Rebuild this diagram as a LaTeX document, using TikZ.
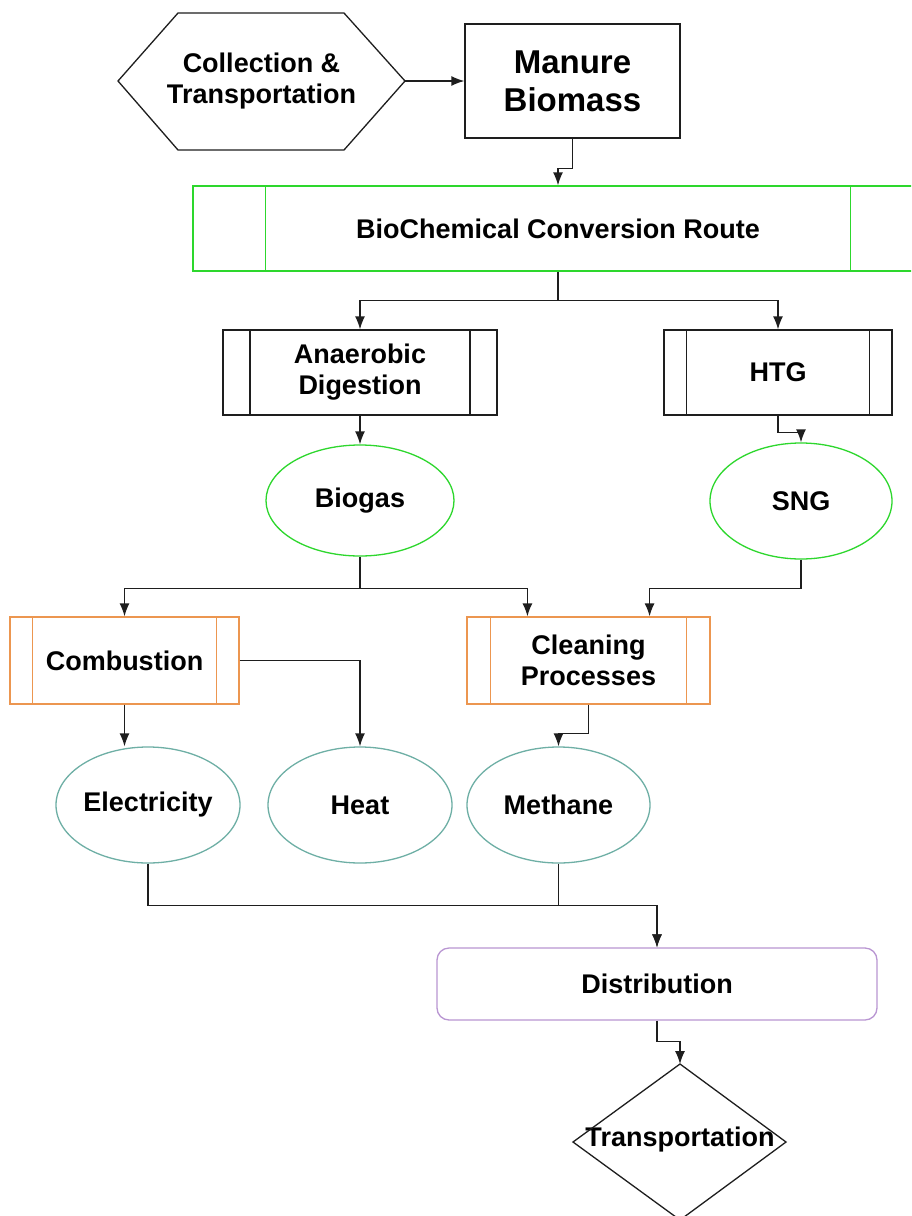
\documentclass[tikz,border=0pt]{standalone}
\usepackage{fontspec}
\setmainfont{Liberation Sans}
\usetikzlibrary{arrows.meta,calc,shapes.geometric}

\definecolor{routegreen}{RGB}{45,215,45}
\definecolor{steporange}{RGB}{236,150,80}
\definecolor{outteal}{RGB}{110,175,165}
\definecolor{distpurple}{RGB}{185,150,210}
\definecolor{linegray}{RGB}{30,30,30}

\tikzset{
  base/.style={inner sep=0pt, line width=1.3pt, align=center,
    font=\fontsize{27}{31}\selectfont\bfseries},
  plainbox/.style={base, draw=linegray, rectangle},
  procbox/.style={base, rectangle},
  oval/.style={base, ellipse, draw=outteal},
  flow/.style={draw=linegray, line width=1.3pt,
    -{Latex[length=13pt,width=10pt]}},
  joinline/.style={draw=linegray, line width=1.3pt},
}

% draws the two inner side bars of a predefined-process box
\newcommand{\sidebars}[3]{%
  \draw[#3, line width=1.4pt] ([xshift=#2]#1.north west) -- ([xshift=#2]#1.south west);
  \draw[#3, line width=1.4pt] ([xshift=-#2]#1.north east) -- ([xshift=-#2]#1.south east);
}

\begin{document}
\begin{tikzpicture}[x=1pt, y=-1pt]
\useasboundingbox (0,0) rectangle (911,1216);
\fill[white] (0,0) rectangle (911,1216);
\clip (0,0) rectangle (911,1216);

% source: collection hexagon
\node[base] (collect) at (261.5,81) {Collection \&\\Transportation};
\coordinate (hexE) at (405,81);
\draw[linegray, line width=1.3pt] (118,81) -- (178,13) -- (344,13) -- (hexE)
  -- (344,150) -- (178,150) -- cycle;

\node[plainbox, minimum width=215pt, minimum height=114pt,
  font=\fontsize{33}{38}\selectfont\bfseries] (manure) at (572.5,81) {Manure\\Biomass};

% conversion route
\node[procbox, draw=routegreen, minimum width=730pt, minimum height=85pt]
  (route) at (558,228.5) {BioChemical Conversion Route};
\sidebars{route}{73pt}{routegreen}

\node[procbox, draw=linegray, minimum width=274pt, minimum height=85pt]
  (anaer) at (360,372.5) {Anaerobic\\Digestion};
\sidebars{anaer}{27.5pt}{linegray}

\node[procbox, draw=linegray, minimum width=228pt, minimum height=85pt]
  (htg) at (778,372.5) {HTG};
\sidebars{htg}{23pt}{linegray}

% gases
\node[oval, draw=routegreen, minimum width=188pt, minimum height=111pt]
  (biogas) at (360,500.5) {\makebox[0pt]{Biogas}};
\node[oval, draw=routegreen, minimum width=182pt, minimum height=116pt]
  (sng) at (801,501) {\makebox[0pt]{SNG}};

% processing
\node[procbox, draw=steporange, minimum width=229pt, minimum height=87pt]
  (comb) at (124.5,660.5) {Combustion};
\sidebars{comb}{23pt}{steporange}

\node[procbox, draw=steporange, minimum width=243pt, minimum height=87pt]
  (clean) at (588.5,660.5) {Cleaning\\Processes};
\sidebars{clean}{24pt}{steporange}

% products
\node[oval, minimum width=184pt, minimum height=116pt]
  (elec) at (148,805) {\makebox[0pt]{Electricity}};
\node[oval, minimum width=184pt, minimum height=116pt]
  (heat) at (360,805) {\makebox[0pt]{Heat}};
\node[oval, minimum width=183pt, minimum height=116pt]
  (meth) at (558.5,805) {\makebox[0pt]{Methane}};

% distribution
\node[base, draw=distpurple, rounded corners=12pt, minimum width=440pt,
  minimum height=72pt] (dist) at (657,984) {Distribution};

% transportation diamond
\node[base] (trans) at (680,1140) {Transportation};
\coordinate (transN) at (680,1064);
\draw[linegray, line width=1.3pt] (transN) -- (786,1142) -- (680,1220)
  -- (573,1142) -- cycle;

% connectors
\draw[flow] (hexE) -- (manure.west);
\draw[flow] (manure.south) -- ++(0,30) -| (route.north);

\draw[joinline] (route.south) -- ++(0,29) coordinate (rsplit);
\draw[flow] (rsplit) -| (anaer.north);
\draw[flow] (rsplit) -| (htg.north);

\draw[flow] (anaer.south) -- (biogas.north);
\draw[flow] (htg.south) -- ++(0,17) -| (sng.north);

\draw[joinline] (biogas.south) -- ++(0,32) coordinate (bsplit);
\coordinate (cleanIn1) at ($(clean.north west)!0.25!(clean.north east)$);
\coordinate (cleanIn2) at ($(clean.north west)!0.75!(clean.north east)$);
\draw[flow] (bsplit) -| (comb.north);
\draw[flow] (bsplit) -| (cleanIn1);
\draw[flow] (sng.south) -- ++(0,29) -| (cleanIn2);

\draw[flow] (comb.south) -- (comb.south |- elec.north);
\draw[flow] (comb.east) -| (heat.north);
\draw[flow] (clean.south) -- ++(0,29) -| (meth.north);

\draw[flow] (elec.south) -- ++(0,42) -| (dist.north);
\draw[flow] (meth.south) -- ++(0,42) -| (dist.north);

\draw[flow] (dist.south) -- ++(0,21) -| (transN);
\end{tikzpicture}
\end{document}
